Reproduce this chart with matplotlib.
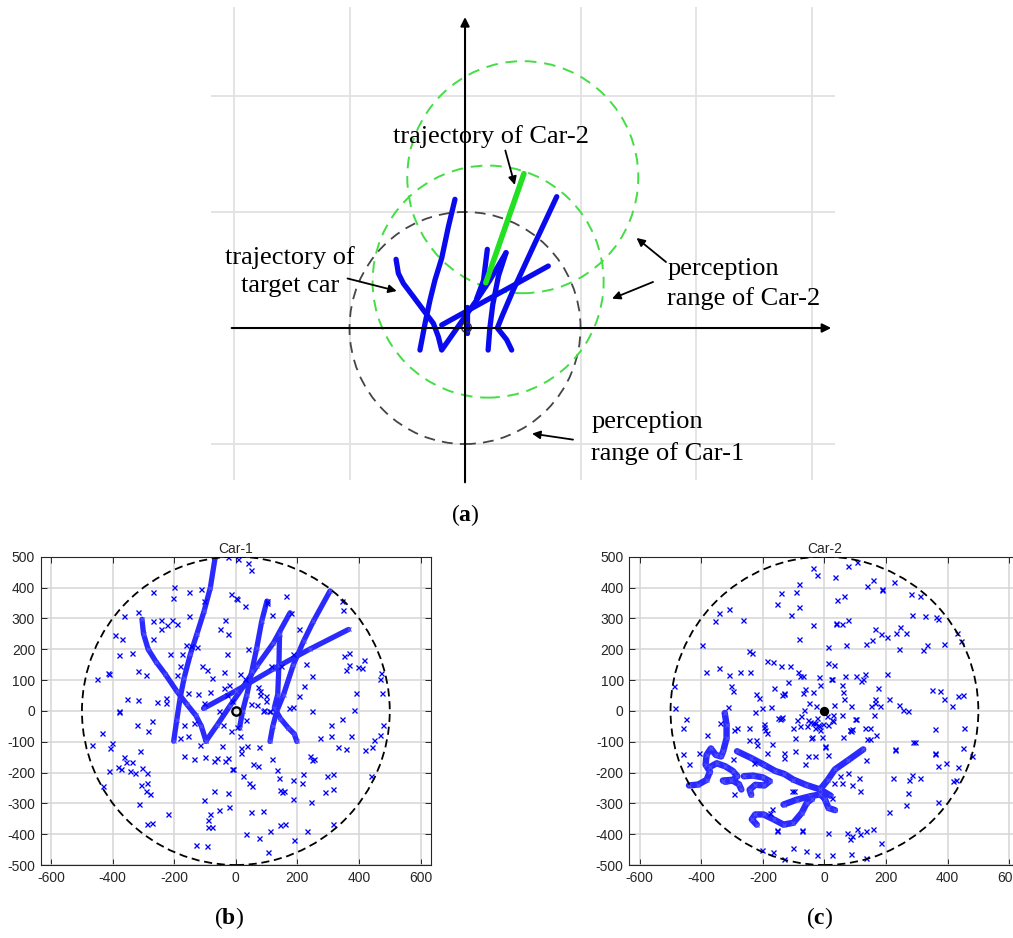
import numpy as np
import matplotlib
matplotlib.use('Agg')
import matplotlib.pyplot as plt
from matplotlib.patches import Circle

plt.rcParams['mathtext.fontset'] = 'custom'
plt.rcParams['mathtext.rm'] = 'Liberation Serif'
plt.rcParams['mathtext.bf'] = 'Liberation Serif:bold'
plt.rcParams['axes.unicode_minus'] = False

# ---------------- Panel (a) data (grid units, 1 unit = perception radius) -------------
a_grid_x = [-2, -1, 1, 2, 3]
a_grid_y = [-1, 1, 2]
a_circle_car1 = (0.0, 0.0, 1.0)
a_circles_car2 = [(0.2, 0.4, 1.0), (0.5, 1.3, 1.0)]
a_traj_car2 = [(0.18, 0.39), (0.51, 1.33)]
a_traj_target = [
    [(-0.087, 1.109), (-0.144, 0.873), (-0.202, 0.601), (-0.26, 0.414), (-0.303, 0.241), (-0.346, 0.04), (-0.39, -0.19)],
    [(-0.597, 0.592), (-0.577, 0.471), (-0.534, 0.385), (-0.447, 0.27), (-0.361, 0.155), (-0.274, 0.04), (-0.231, -0.075),
     (-0.202, -0.19), (-0.101, -0.046), (0.0, 0.098), (0.101, 0.241), (0.216, 0.414), (0.355, 0.649)],
    [(-0.202, 0.026), (0.721, 0.534)],
    [(0.794, 1.132), (0.591, 0.701), (0.418, 0.328), (0.32, 0.1), (0.28, 0.0), (0.36, -0.1), (0.404, -0.19)],
    [(0.355, 0.649), (0.29, 0.45), (0.24, 0.2), (0.215, 0.0), (0.2, -0.19)],
    [(0.02, 0.184), (0.02, -0.046)],
    [(0.193, 0.678), (0.16, 0.41), (0.1, 0.25)],
]

# ---------------- Panel (b) data: Car-1 ----------------
car1_points = np.array([
    (-26, 499), (8, 494), (41, 480), (49, 457), (-200, 401), (-203, 366), (-152, 386), (-112, 394), (-268, 386),
    (-103, 355), (-16, 379), (1, 366), (4, 364), (30, 339), (-319, 320), (-364, 307), (-151, 307), (-269, 293),
    (-242, 294), (-242, 267), (-224, 278), (-208, 294), (-190, 283), (-35, 294), (-26, 250), (-51, 265), (-391, 245),
    (-371, 234), (-268, 234), (101, 351), (101, 357), (119, 310), (162, 373), (178, 319), (204, 267), (346, 357),
    (348, 327), (39, 199), (-161, 213), (-147, 211), (-125, 208), (-214, 186), (-175, 184), (-29, 185), (-380, 180),
    (-338, 187), (366, 188), (351, 179), (415, 166), (396, 141), (369, 149), (357, 134), (410, 138), (471, 122),
    (467, 103), (248, 112), (222, 79), (229, 151), (187, 186), (146, 144), (113, 144), (-451, 103), (-416, 123),
    (-412, 121), (-318, 130), (-292, 116), (-181, 145), (-190, 116), (-111, 145), (-94, 134), (-76, 108), (-39, 126),
    (13, 121), (-23, 83), (-38, 75), (31, 103), (476, 59), (389, 57), (385, 3), (249, -1), (205, 48), (187, 14),
    (172, 10), (97, 49), (79, 52), (72, 76), (97, 32), (89, 0), (107, 0), (68, 18), (49, 22), (-354, 39), (-317, 35),
    (-378, 0), (-255, 28), (-227, 41), (-227, 24), (-157, 59), (-123, 56), (-83, 62), (-103, 26), (-55, 0),
    (-13, 31), (-29, 53), (79, 64), (90, 4), (111, -1),
    (32, -31), (12, -82), (16, -120), (17, -137), (36, -115), (74, -118), (-13, -188), (23, -211), (44, -234),
    (54, -243), (119, -156), (133, -191), (139, -217), (144, -256), (149, -264), (155, -261), (185, -286), (187, -223),
    (214, -234), (217, -205), (243, -297), (240, -148), (248, -158), (255, -156), (272, -88), (309, -82), (309, -47),
    (346, -25), (373, -80), (333, -117), (357, -124), (420, -128), (443, -117), (450, -95), (468, -79), (477, -45),
    (439, -210), (295, -212), (314, -204), (290, -263), (317, -252), (315, -367), (231, -389), (189, -420),
    (111, -389), (76, -413), (103, -459), (32, -399), (49, -329), (87, -324), (-21, -312), (-56, -323), (-89, -353),
    (-83, -334), (-92, -378), (-78, -376), (-102, -290), (-27, -266), (-71, -259), (-131, -434), (-94, -438),
    (-221, -334), (-273, -364), (-289, -366), (-315, -302), (-280, -270), (-293, -261), (-289, -234), (-308, -239),
    (-289, -201), (-305, -185), (-327, -201), (-345, -194), (-372, -187), (-383, -183), (-413, -194), (-430, -243),
    (-337, -166), (-356, -166), (-364, -149), (-313, -131), (-403, -104), (-410, -120), (-435, -72), (-468, -112),
    (-379, -3), (-321, -45), (-284, -64), (-273, -34), (-170, -148), (-137, -156), (-100, -151), (-70, -162),
    (-62, -153), (-35, -162), (-27, -153), (-45, -115), (-116, -112), (-154, -80), (-181, -88), (-167, -45),
    (-137, -39), (-43, -47), (3, -52), (-15, -66), (144, -369), (160, -367), (57, -174), (71, -179), (-9, -188),
])

car1_trajectories = [
    [(-67, 499), (-83, 399), (-103, 324), (-127, 248), (-148, 183), (-168, 107), (-181, 42), (-192, -30), (-202, -98)],
    [(-305, 297), (-300, 250), (-285, 200), (-260, 160), (-230, 120), (-192, 64), (-159, 21), (-130, -15), (-112, -50), (-97, -98)],
    [(-97, -98), (-60, -45), (-20, 15), (25, 80), (68, 145), (122, 220), (176, 318)],
    [(-105, 8), (0, 65), (120, 135), (240, 200), (366, 264)],
    [(306, 389), (252, 291), (220, 226), (187, 150), (155, 53), (133, -1), (120, -50), (111, -99)],
    [(101, 356), (84, 291), (68, 205), (52, 129), (36, 53), (22, 0), (12, -55)],
    [(142, 248), (140, 150), (136, 53), (125, 10), (145, -25), (170, -55), (190, -75), (198, -99)],
]

# ---------------- Panel (c) data: Car-2 ----------------
car2_points = np.array([
    (-38, 464), (-23, 442), (35, 435), (76, 469), (105, 483), (-84, 412), (-93, 385), (-141, 381), (-155, 348),
    (-84, 337), (-108, 311), (-84, 234), (-36, 279), (36, 282), (38, 285), (56, 282), (77, 296), (42, 359), (62, 372),
    (139, 406), (159, 424), (186, 396), (186, 391), (227, 418), (281, 379), (310, 372), (283, 310), (326, 307),
    (362, 304), (368, 298), (431, 251), (442, 226), (389, 217), (334, 212), (321, 197), (243, 199), (265, 253),
    (246, 271), (233, 253), (203, 240), (184, 248), (165, 266), (154, 231), (135, 217), (70, 214), (13, 208),
    (13, 156), (32, 150), (67, 112), (102, 112), (124, 102), (132, 121), (119, 96), (173, 74), (164, 37), (164, 26),
    (150, 15), (181, 15), (211, 40), (204, 119), (243, 18), (256, 4), (270, -2), (350, 69), (375, 66), (389, 38),
    (415, 16), (434, 48), (451, 51), (454, -57), (451, -119), (478, -147), (434, -182), (418, -228), (429, -225),
    (395, -168), (370, -179), (359, -138), (370, -296), (359, -58), (294, -102), (312, -217), (284, -209),
    (275, -223), (270, -266), (265, -307), (229, -125), (222, -217), (211, -328), (184, -428), (157, -383),
    (134, -390), (107, -382), (115, -401), (89, -407), (83, -417), (72, -396), (87, -464), (134, -477), (26, -466),
    (10, -396), (-25, -466), (-59, -455), (-101, -444), (-131, -482), (-168, -457), (-203, -450), (-74, -385),
    (-155, -385), (24, -282), (31, -234), (58, -234), (78, -201), (52, -210), (89, -242), (116, -261), (112, -217),
    (134, -158), (132, -57), (148, -57), (148, -91), (168, -79), (162, -13), (83, -62), (89, -58), (86, -65),
    (59, -85), (100, -25), (87, 17), (65, 37), (59, 62), (58, 85), (22, 104), (25, 102), (-17, 111), (-16, 85),
    (-36, 62), (-63, 71), (-71, 58), (-49, 26), (-29, 15), (31, 18), (-68, 4), (-76, -17), (-88, -31), (-79, -50),
    (-57, -50), (-46, -37), (-30, -39), (-19, -50), (-6, -44), (-25, -23), (8, -17), (27, -34), (29, -12), (56, -12),
    (-41, -84), (-9, -84), (2, -115), (10, -142), (-55, -147), (-63, -174), (-32, -145), (-97, -131), (-133, -152),
    (-133, -138), (-95, -88), (-101, -55), (-146, -26), (-137, -19), (-130, 58), (-138, 50), (-131, 56), (-165, 75),
    (-117, 93), (-81, 112), (-70, 112), (-85, 125), (-111, 147), (-141, 147), (-168, 159), (-187, 161), (-173, 12),
    (-152, -22), (-141, -23), (-203, 10), (-227, -4), (-222, 55), (-214, 42), (-246, -55), (-244, -93), (-222, -96),
    (-219, -112), (-228, -169), (-187, -136), (-170, -109), (-195, -42), (-192, -61), (-187, -71), (-198, -52),
    (-246, 194), (-236, 188), (-263, 296), (-309, 331), (-344, 316), (-354, 291), (-399, 212), (-386, 126),
    (-342, 139), (-311, 115), (-303, 82), (-297, 66), (-312, 13), (-274, 125), (-243, 125), (-490, 80), (-485, 10),
    (-451, -25), (-459, -55), (-381, -77), (-459, -139), (-441, -174), (-408, -136), (-295, -63), (-284, -57),
    (-297, -156), (-295, -269), (-338, -39), (-171, -318), (-176, -331), (-155, -390), (-72, -390), (-106, -261),
    (-98, -261), (-53, -29), (-37, -40), (-21, -45), (12, -45), (23, -29), (-15, -61), (-31, -55), (-44, -88),
    (3, -116), (82, -63), (102, -25), (137, -91), (228, -126), (288, -102), (358, -140),
])

car2_trajectories = [
    [(-324, -7), (-318, -45), (-318, -89), (-329, -131), (-336, -148), (-353, -143), (-369, -122), (-383, -143),
     (-386, -175), (-372, -197), (-383, -224), (-410, -239), (-440, -242)],
    [(-372, -182), (-350, -170), (-322, -180), (-298, -195), (-283, -212), (-300, -226), (-322, -230)],
    [(-284, -131), (-240, -152), (-196, -175), (-160, -195), (-130, -205), (-101, -223), (-60, -240), (-14, -255), (20, -275)],
    [(-14, -255), (10, -225), (34, -190), (77, -160), (126, -125)],
    [(-14, -255), (2, -288), (13, -315), (34, -322)],
    [(-133, -304), (-90, -288), (-46, -277), (-14, -271), (2, -285)],
    [(-40, -285), (-57, -298), (-74, -331), (-101, -363), (-133, -369), (-165, -352), (-198, -336), (-225, -336),
     (-236, -352), (-220, -369)],
    [(-262, -212), (-232, -210), (-200, -216), (-178, -228), (-195, -242), (-225, -240), (-243, -256), (-238, -272)],
    [(-330, -226), (-302, -224), (-278, -238), (-270, -255)],
]

xticks_bc = [-600, -400, -200, 0, 200, 400, 600]
yticks_bc = [-500, -400, -300, -200, -100, 0, 100, 200, 300, 400, 500]
perception_radius = 500

W, H = 1013, 938
fig = plt.figure(figsize=(W / 100, H / 100), dpi=100)

# ================= Panel (a) =================
axa = fig.add_axes([205 / W, 1 - 480 / H, 630 / W, 475 / H])
axa.set_xlim(-2.251, 3.203)
axa.set_ylim(-1.310, 2.784)
axa.axis('off')
axa.vlines(a_grid_x, -1.33, 2.77, color='#e2e2e2', lw=1.3, zorder=0)
axa.hlines(a_grid_y, -2.2, 3.2, color='#e2e2e2', lw=1.3, zorder=0)
axa.annotate('', xy=(3.17, 0), xytext=(-2.02, 0),
             arrowprops=dict(arrowstyle='-|>', color='k', lw=1.5, mutation_scale=13, shrinkA=0, shrinkB=0))
axa.annotate('', xy=(0, 2.68), xytext=(0, -1.33),
             arrowprops=dict(arrowstyle='-|>', color='k', lw=1.5, mutation_scale=13, shrinkA=0, shrinkB=0))

cx, cy, r = a_circle_car1
axa.add_patch(Circle((cx, cy), r, fill=False, ec='#454545', lw=1.3, ls=(0, (6, 4))))
for (cx, cy, r) in a_circles_car2:
    axa.add_patch(Circle((cx, cy), r, fill=False, ec='#44dd44', lw=1.4, ls=(0, (6, 4))))

for tr in a_traj_target:
    t = np.array(tr)
    axa.plot(t[:, 0], t[:, 1], color='#0a0aee', lw=3.8, solid_capstyle='round', solid_joinstyle='round')
g = np.array(a_traj_car2)
axa.plot(g[:, 0], g[:, 1], color='#22e022', lw=4.0, solid_capstyle='round')
axa.plot([0.01], [0.01], 'o', mfc='none', mec='#333333', ms=7, mew=1.0)

serif = 'Liberation Serif'
fs_a = 19
axa.text(-0.623, 1.647, 'trajectory of Car-2', family=serif, size=fs_a, ha='left', va='center')
axa.text(-1.515, 0.483, 'trajectory of\ntarget car', family=serif, size=fs_a, ha='center', va='center',
         multialignment='center', linespacing=1.35)
axa.text(1.749, 0.379, 'perception\nrange of Car-2', family=serif, size=fs_a, ha='left', va='center',
         linespacing=1.35)
axa.text(1.091, -0.948, 'perception\nrange of Car-1', family=serif, size=fs_a, ha='left', va='center',
         linespacing=1.45)

arrows_a = [((0.349, 1.53), (0.431, 1.233)),
            ((-1.017, 0.427), (-0.591, 0.319)),
            ((1.740, 0.569), (1.485, 0.776)),
            ((1.628, 0.397), (1.273, 0.253)),
            ((0.935, -0.962), (0.580, -0.910))]
for tail, head in arrows_a:
    axa.annotate('', xy=head, xytext=tail,
                 arrowprops=dict(arrowstyle='-|>', color='k', lw=1.3, mutation_scale=12, shrinkA=0, shrinkB=0))


# ================= Panels (b) and (c) =================
def draw_panel(ax, title, pts, trajs, traj_lw, origin_filled):
    ax.set_xlim(-634, 634)
    ax.set_ylim(-500, 500)
    ax.set_xticks(xticks_bc)
    ax.set_yticks(yticks_bc)
    ax.grid(True, color='#d6d6d6', lw=1.1)
    ax.set_axisbelow(True)
    ax.tick_params(direction='in', top=True, right=True, length=4, width=0.7, colors='#262626',
                   labelsize=10, pad=4)
    for lab in ax.get_xticklabels() + ax.get_yticklabels():
        lab.set_family('Liberation Sans')
    for sp in ax.spines.values():
        sp.set_color('#262626')
        sp.set_linewidth(0.8)
    ax.set_title(title, family='Liberation Sans', size=10, color='#262626', pad=3)
    for tr in trajs:
        t = np.array(tr)
        ax.plot(t[:, 0], t[:, 1], color='#2a2aff', lw=traj_lw, solid_capstyle='round',
                solid_joinstyle='round', zorder=3)
        ax.plot(t[:, 0], t[:, 1], 'x', color='#5050ff', ms=3.5, mew=0.8, zorder=3)
    ax.plot(pts[:, 0], pts[:, 1], 'x', color='#0000ff', ms=3.6, mew=0.95, zorder=4)
    ax.add_patch(Circle((0, 0), perception_radius, fill=False, ec='k', lw=1.3, ls=(0, (4.5, 2.6)), zorder=5))
    if origin_filled:
        ax.plot([0], [0], 'o', mfc='k', mec='k', ms=5.5, mew=1.2, zorder=6)
    else:
        ax.plot([0], [0], 'o', mfc='none', mec='k', ms=6, mew=1.7, zorder=6)


axb = fig.add_axes([40.7 / W, 73 / H, 390.3 / W, 308.3 / H])
draw_panel(axb, 'Car-1', car1_points, car1_trajectories, 3.8, False)

axc = fig.add_axes([629.3 / W, 73 / H, 390.3 / W, 308.3 / H])
draw_panel(axc, 'Car-2', car2_points, car2_trajectories, 4.6, True)

# ================= panel labels =================
fig.text(465 / W, 1 - 515 / H, r'($\mathbf{a}$)', family=serif, size=17, ha='center', va='center')
fig.text(229 / W, 1 - 918 / H, r'($\mathbf{b}$)', family=serif, size=17, ha='center', va='center')
fig.text(820 / W, 1 - 918 / H, r'($\mathbf{c}$)', family=serif, size=17, ha='center', va='center')

fig.savefig('out.png', dpi=100)
